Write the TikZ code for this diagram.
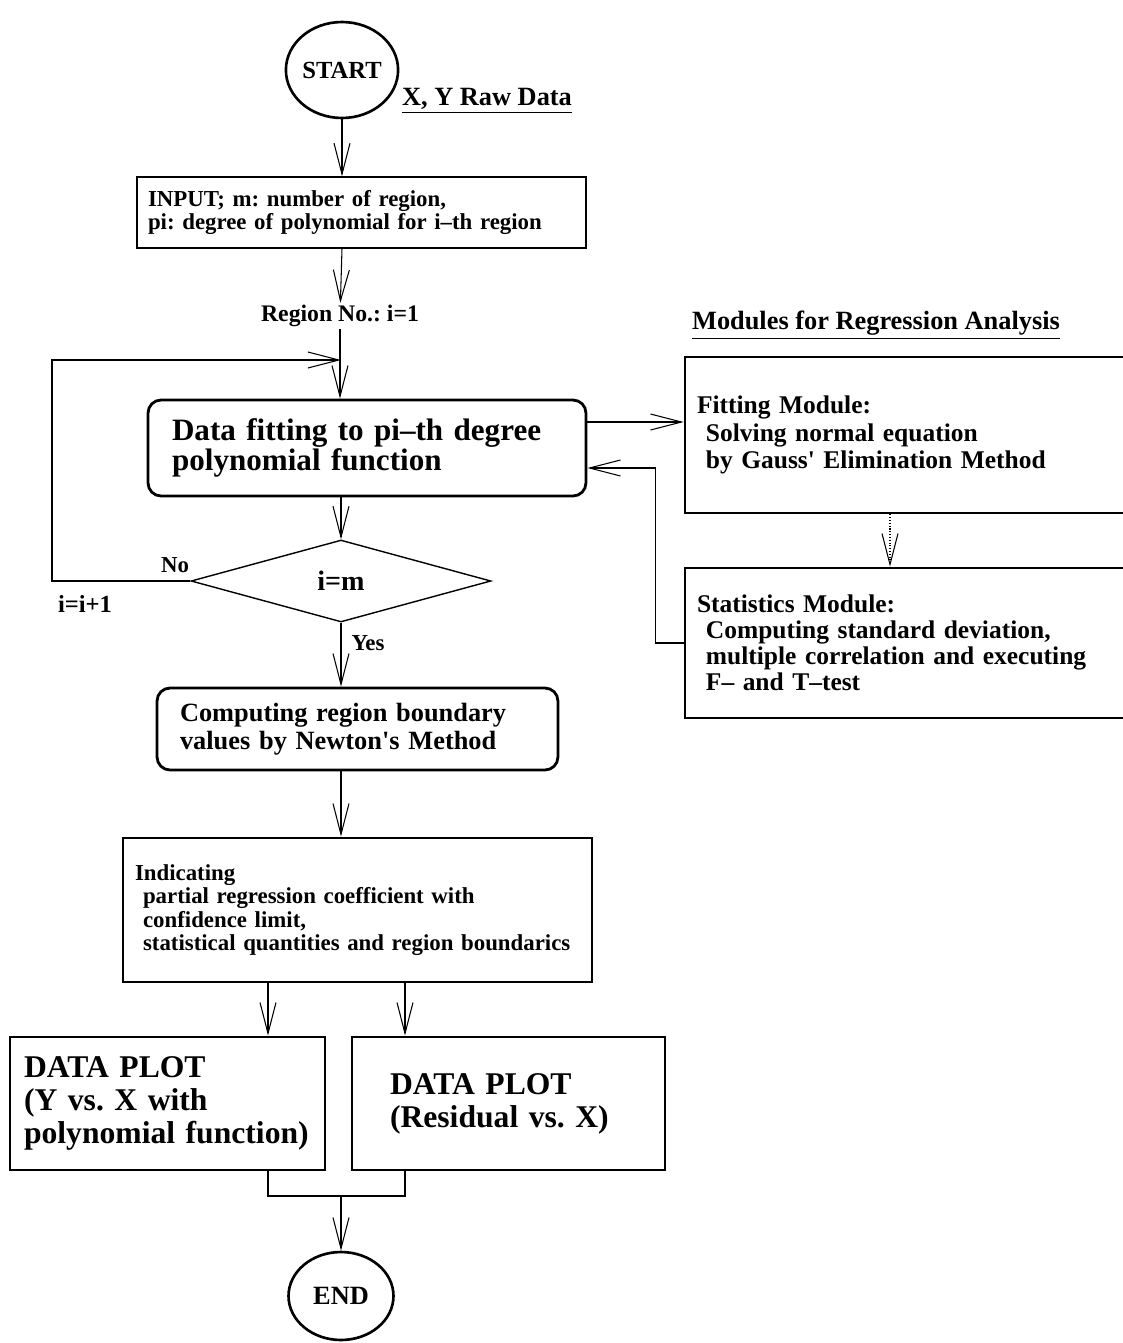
\documentclass[tikz,border=0pt]{standalone}
\usepackage{fontspec}
\setmainfont{Liberation Serif}
\usetikzlibrary{arrows.meta,shapes.geometric,positioning}

\newcommand{\ind}{\hspace*{0.35em}}
\frenchspacing

\begin{document}
\begin{tikzpicture}[x=0.02cm,y=-0.02cm,->,>={Straight Barb[length=0.62cm,width=0.32cm]},
                    line width=0.6pt,
                    term node/.style={ellipse,draw,line width=1.5pt,inner sep=0pt},
                    flow box/.style={rectangle,draw,align=left,inner ysep=0pt},
                    round box/.style={flow box,rounded corners=0.26cm,line width=1.6pt},
                    heavy box/.style={flow box,line width=1.6pt},
                    label text/.style={inner sep=1pt,font=\bfseries\fontsize{13}{15}\selectfont}]

  \useasboundingbox (0,0) rectangle (1123,1343);

  % main column
  \node[term node,minimum width=1.84cm,minimum height=1.92cm,
        font=\bfseries\fontsize{14}{16}\selectfont] (start) at (342,70) {START};
  \node[label text,font=\bfseries\fontsize{15}{17}\selectfont] (rawdata) at (487,101) {\underline{X, Y Raw Data}};
  \node[flow box,line width=0.8pt,minimum height=1.42cm,text width=8.54cm,inner xsep=0.22cm,
        font=\bfseries\fontsize{13}{13.6}\selectfont] (input) at (361.5,212.5)
        {INPUT; m: number of region,\\pi: degree of polynomial for i–th region};
  \node[label text,font=\bfseries\fontsize{13.5}{15}\selectfont] (regno) at (340,316) {Region No.: i=1};
  \coordinate (join) at (341,360);
  \node[round box,minimum height=1.92cm,text width=7.8cm,inner xsep=0.48cm,
        font=\bfseries\fontsize{17.7}{17}\selectfont] (fit) at (367,448)
        {Data fitting to pi–th degree\\polynomial function};
  \node[diamond,draw,line width=0.8pt,minimum width=6cm,minimum height=1.64cm,inner sep=0pt,
        font=\bfseries\fontsize{16}{18}\selectfont] (cond) at (341,581) {i=m};
  \coordinate (back) at (52,581);
  \node[label text] (no) at (175,565) {No};
  \node[label text,font=\bfseries\fontsize{14}{16}\selectfont] (incr) at (85,604) {i=i+1};
  \node[label text] (yes) at (368,643) {Yes};
  \node[round box,minimum height=1.64cm,text width=7.1cm,inner xsep=0.46cm,
        font=\bfseries\fontsize{15}{15.6}\selectfont] (comp) at (357.5,729)
        {Computing region boundary\\values by Newton\textquotesingle s Method};
  \node[heavy box,minimum height=2.88cm,text width=8.9cm,inner xsep=0.24cm,
        font=\bfseries\fontsize{13}{13.2}\selectfont] (ind) at (357.5,910)
        {Indicating\\\ind partial regression coefficient with\\\ind confidence limit,\\\ind statistical quantities and region boundarics};
  \node[heavy box,minimum height=2.66cm,text width=5.74cm,inner xsep=0.28cm,
        font=\bfseries\fontsize{18}{18.7}\selectfont] (plot1) at (167.5,1103.5)
        {DATA PLOT\\(Y vs. X with\\polynomial function)};
  \node[heavy box,minimum height=2.66cm,text width=4.74cm,inner xsep=0.76cm,
        font=\bfseries\fontsize{18}{18.7}\selectfont] (plot2) at (508.5,1103.5)
        {DATA PLOT\\(Residual vs. X)};
  \node[term node,minimum width=2.1cm,minimum height=1.76cm,
        font=\bfseries\fontsize{15}{17}\selectfont] (end) at (341,1296) {END};

  % modules
  \node[label text,font=\bfseries\fontsize{15}{17}\selectfont] (modtitle) at (876,325)
        {\underline{Modules for Regression Analysis}};
  \node[heavy box,minimum height=3.12cm,text width=8.42cm,inner xsep=0.24cm,
        font=\bfseries\fontsize{14.5}{15.6}\selectfont] (fitmod) at (907.5,435)
        {Fitting Module:\\\ind Solving normal equation\\\ind by Gauss\textquotesingle\ Elimination Method};
  \node[heavy box,minimum height=3cm,text width=8.42cm,inner xsep=0.24cm,
        font=\bfseries\fontsize{14.5}{14.9}\selectfont] (statmod) at (907.5,643)
        {Statistics Module:\\\ind Computing standard deviation,\\\ind multiple correlation and executing\\\ind F– and T–test};

  % connectors
  \draw (start) -- (start |- input.north);
  \draw (start |- input.south) -- (regno);
  \draw (regno) -- (regno |- fit.north);
  \draw (cond.west) -- (back) |- (join);
  \draw (fit.south -| cond) -- (cond.north);
  \draw (cond.south) -- (cond.south |- comp.north);
  \draw (cond.south |- comp.south) -- (cond.south |- ind.north);
  \coordinate (split1) at (268,982);
  \coordinate (split2) at (405,982);
  \draw (split1) -- (split1 |- plot1.north);
  \draw (split2) -- (split2 |- plot2.north);
  \coordinate (merge) at (341,1196);
  \draw[-] (split1 |- plot1.south) |- (merge) -| (split2 |- plot2.south);
  \draw (merge) -- (end);
  \draw ([yshift=0.52cm]fit.east) -- ([yshift=0.52cm]fit.east -| fitmod.west);
  \draw (statmod.west) -- ++(-28,0) |- ([yshift=-0.4cm]fit.east);
  \draw[densely dotted] ([xshift=-0.35cm]fitmod.south) -- ([xshift=-0.35cm]fitmod.south |- statmod.north);
\end{tikzpicture}
\end{document}
